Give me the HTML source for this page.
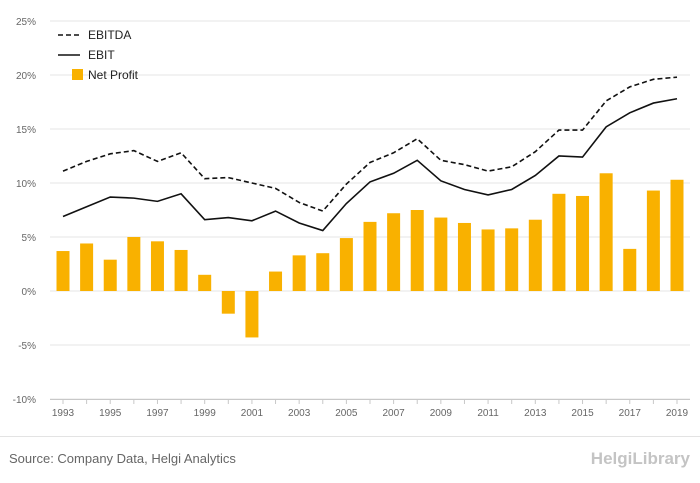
<!DOCTYPE html>
<html><head><meta charset="utf-8"><style>
body{margin:0;background:#fff;font-family:"Liberation Sans",sans-serif;}
#wrap{position:relative;width:700px;height:483px;overflow:hidden;}
</style></head><body>
<div id="wrap">
<svg id="chart" width="700" height="483"></svg>
</div>
<script>
const years=[1993,1994,1995,1996,1997,1998,1999,2000,2001,2002,2003,2004,2005,2006,2007,2008,2009,2010,2011,2012,2013,2014,2015,2016,2017,2018,2019];
const netProfit=[3.7,4.4,2.9,5.0,4.6,3.8,1.5,-2.1,-4.3,1.8,3.3,3.5,4.9,6.4,7.2,7.5,6.8,6.3,5.7,5.8,6.6,9.0,8.8,10.9,3.9,9.3,10.3];
const ebitda=[11.1,12.0,12.7,13.0,12.0,12.8,10.4,10.5,10.0,9.5,8.2,7.4,9.9,11.9,12.8,14.1,12.1,11.7,11.1,11.5,12.9,14.9,14.9,17.6,18.9,19.6,19.8];
const ebit=[6.9,7.8,8.7,8.6,8.3,9.0,6.6,6.8,6.5,7.4,6.3,5.6,8.1,10.1,10.9,12.1,10.2,9.4,8.9,9.4,10.7,12.5,12.4,15.2,16.5,17.4,17.8];
const yTicks=[-10,-5,0,5,10,15,20,25];

const NS="http://www.w3.org/2000/svg";
const svg=document.getElementById('chart');
function mk(t,a,parent){const e=document.createElementNS(NS,t);for(const k in a)e.setAttribute(k,a[k]);(parent||svg).appendChild(e);return e;}
const x0=50,x1=690,yTop=21,yBot=399;
const y=v=>yBot-(v+10)/35*(yBot-yTop);
const x=i=>63+i*(677-63)/(years.length-1);

yTicks.forEach(t=>{
  const l=mk('line',{x1:x0,x2:x1,y1:y(t),y2:y(t),stroke:'#e6e6e6','stroke-width':1});
  
  
  const tx=mk('text',{x:36,y:y(t)+4,'text-anchor':'end','font-size':10,fill:'#666'});
  tx.textContent=t+'%';
  
  
});
const ax=mk('line',{x1:x0,x2:x1,y1:yBot+0.5,y2:yBot+0.5,stroke:'#c8c8c8'});


years.forEach((yr,i)=>{
  const tk=mk('line',{x1:x(i),x2:x(i),y1:yBot,y2:yBot+5,stroke:'#c8c8c8'});
  
  
  if(i%2===0){
    const t=mk('text',{x:x(i),y:yBot+17,'text-anchor':'middle','font-size':10,fill:'#666'});
    t.textContent=yr;
    
    
  }
});
netProfit.forEach((v,i)=>{
  const b=mk('rect',{x:x(i)-6.5,y:Math.min(y(v),y(0)),width:13,height:Math.abs(y(v)-y(0)),fill:'#f9b100'});
  
  
});
function line(data,dash,name){
  const p=mk('polyline',{points:data.map((v,i)=>x(i)+','+y(v)).join(' '),fill:'none',stroke:'#111','stroke-width':1.6,'stroke-dasharray':dash});
  
  
}
line(ebitda,'5,3','ebitda-line');
line(ebit,'none','ebit-line');

// legend
const lg=mk('g',{});


const e1=mk('line',{x1:58,x2:80,y1:35,y2:35,stroke:'#111','stroke-width':1.6,'stroke-dasharray':'5,3'},lg);
const t1=mk('text',{x:88,y:39,'font-size':12,fill:'#222'},lg);t1.textContent='EBITDA';


const e2=mk('line',{x1:58,x2:80,y1:55,y2:55,stroke:'#111','stroke-width':1.6},lg);
const t2=mk('text',{x:88,y:59,'font-size':12,fill:'#222'},lg);t2.textContent='EBIT';


mk('rect',{x:72,y:69,width:11,height:11,fill:'#f9b100'},lg);
const t3=mk('text',{x:88,y:79,'font-size':12,fill:'#222'},lg);t3.textContent='Net Profit';



// footer
const fl=mk('line',{x1:0,x2:700,y1:436.5,y2:436.5,stroke:'#e3e3e3'});


const src=mk('text',{x:9,y:463,'font-size':13,fill:'#666'});
src.textContent='Source: Company Data, Helgi Analytics';


const logo=mk('text',{x:690,y:464,'text-anchor':'end','font-size':17,fill:'#c4c4c4','font-weight':'bold'});
logo.textContent='HelgiLibrary';


</script>
</body></html>
